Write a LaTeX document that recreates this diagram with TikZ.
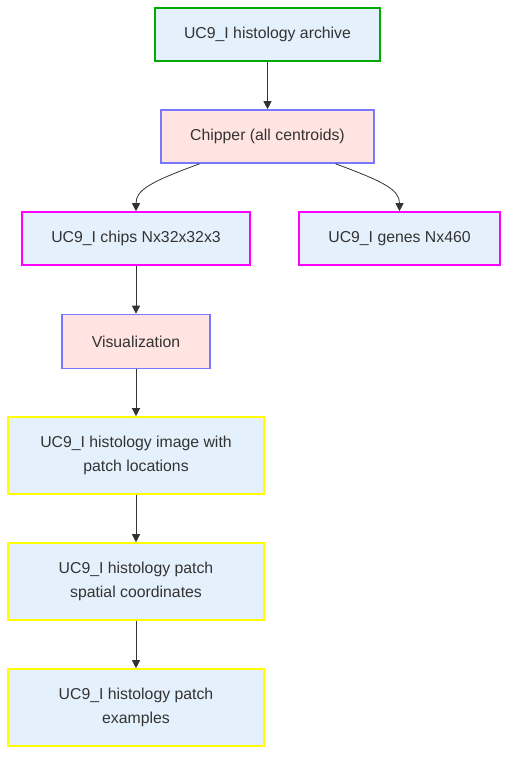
\documentclass[tikz,border=0pt]{standalone}
\usepackage{fontspec}
\setmainfont{Liberation Sans}
\usetikzlibrary{arrows.meta}
\definecolor{txt}{HTML}{333333}
\definecolor{bluefill}{HTML}{E4F1FC}
\definecolor{pinkfill}{HTML}{FFE4E1}
\definecolor{grn}{HTML}{00AA00}
\definecolor{blu}{HTML}{7777FF}
\definecolor{mag}{HTML}{FF00FF}
\definecolor{yel}{HTML}{FFFF00}
\begin{document}
\begin{tikzpicture}[x=1pt,y=-1pt,
  box/.style={draw, line width=1.6pt, text=txt, font=\fontsize{15.8}{24}\selectfont, align=center, inner sep=0pt},
  datab/.style={box, fill=bluefill},
  procb/.style={box, fill=pinkfill, draw=blu},
  arr/.style={draw=txt, line width=0.8pt, -{Triangle[length=8pt,width=8pt]}}]
\useasboundingbox (0,0) rectangle (516,766);
\node[datab, draw=grn, minimum width=225pt, minimum height=53pt] (arch) at (267.5,34.5) {UC9\_I histology archive};
\node[procb, minimum width=213pt, minimum height=53pt] (chip) at (267.5,136.5) {Chipper (all centroids)};
\node[datab, draw=mag, minimum width=228pt, minimum height=53pt] (chips) at (136,238.5) {UC9\_I chips Nx32x32x3};
\node[datab, draw=mag, minimum width=201pt, minimum height=53pt] (genes) at (399.5,238.5) {UC9\_I genes Nx460};
\node[procb, minimum width=148pt, minimum height=54pt] (vis) at (136,341.5) {Visualization};
\node[datab, draw=yel, minimum width=256pt, minimum height=77pt] (img) at (136,455.5) {UC9\_I histology image with\\patch locations};
\node[datab, draw=yel, minimum width=256pt, minimum height=77pt] (coord) at (136,581.5) {UC9\_I histology patch\\spatial coordinates};
\node[datab, draw=yel, minimum width=256pt, minimum height=77pt] (ex) at (136,707.5) {UC9\_I histology patch\\examples};
\draw[arr] (arch.south) -- (chip.north);
\draw[arr] (chip.south) ++(-68,0) coordinate (c1) .. controls (150,182) and (136,190) .. (chips.north);
\draw[arr] (chip.south) ++(68,0) coordinate (c2) .. controls (385,182) and (399.5,190) .. (genes.north);
\draw[arr] (chips.south) -- (vis.north);
\draw[arr] (vis.south) -- (img.north);
\draw[arr] (img.south) -- (coord.north);
\draw[arr] (coord.south) -- (ex.north);
\end{tikzpicture}
\end{document}
